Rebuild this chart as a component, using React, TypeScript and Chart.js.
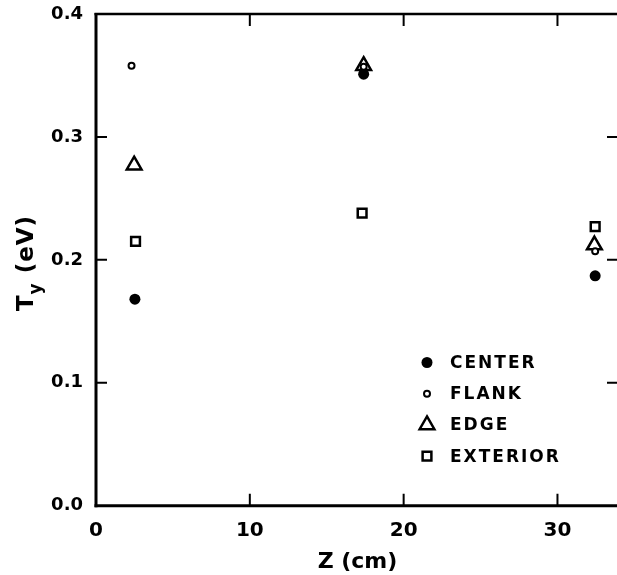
import React, { useEffect, useRef } from 'react';
import { Chart, registerables } from 'chart.js';

Chart.register(...registerables);

const seriesLabels = ['CENTER', 'FLANK', 'EDGE', 'EXTERIOR'];
const centerZ = [2.53, 17.4, 32.45];
const centerT = [0.168, 0.351, 0.187];
const flankZ = [2.31, 17.4, 32.45];
const flankT = [0.358, 0.357, 0.207];
const edgeZ = [2.48, 17.4, 32.4];
const edgeT = [0.277, 0.358, 0.212];
const exteriorZ = [2.57, 17.3, 32.45];
const exteriorT = [0.215, 0.238, 0.227];
const xTicks = [0, 10, 20, 30];
const yTicks = [0, 0.1, 0.2, 0.3, 0.4];
const xTitle = 'Z (cm)';
const yTitleMain = 'T';
const yTitleSub = 'y';
const yTitleRest = ' (eV)';

const FONT = '"DejaVu Sans", sans-serif';

type Mk = { style: string; r: number; fill: string; lw: number };
const markers: Mk[] = [
  { style: 'circle', r: 5.5, fill: '#000', lw: 0 },
  { style: 'circle', r: 3, fill: '#fff', lw: 2 },
  { style: 'triangle', r: 8.5, fill: 'rgba(0,0,0,0)', lw: 2.5 },
  { style: 'rect', r: 6.2, fill: 'rgba(0,0,0,0)', lw: 2.5 },
];

function drawMarker(ctx: CanvasRenderingContext2D, m: Mk, x: number, y: number) {
  ctx.save();
  ctx.beginPath();
  if (m.style === 'circle') {
    ctx.arc(x, y, m.r, 0, Math.PI * 2);
  } else if (m.style === 'triangle') {
    const r = m.r;
    ctx.moveTo(x, y - r);
    ctx.lineTo(x + r * Math.sin(Math.PI * 2 / 3), y + r / 2);
    ctx.lineTo(x - r * Math.sin(Math.PI * 2 / 3), y + r / 2);
    ctx.closePath();
  } else {
    const s = Math.SQRT1_2 * m.r;
    ctx.rect(x - s, y - s, 2 * s, 2 * s);
  }
  ctx.fillStyle = m.fill;
  ctx.fill();
  if (m.lw > 0) {
    ctx.lineWidth = m.lw;
    ctx.strokeStyle = '#000';
    ctx.stroke();
  }
  ctx.restore();
}

const framePlugin = {
  id: 'frame',
  afterDraw(chart: any) {
    const { ctx, chartArea: a, scales } = chart;
    const xs = scales.x;
    const ys = scales.y;
    ctx.save();
    ctx.strokeStyle = '#000';
    ctx.lineCap = 'butt';
    // borders
    ctx.lineWidth = 3;
    ctx.beginPath();
    ctx.moveTo(a.left, a.top - 1);
    ctx.lineTo(a.left, a.bottom + 1.5);
    ctx.stroke();
    ctx.beginPath();
    ctx.moveTo(a.left - 1.5, a.bottom);
    ctx.lineTo(a.right + 1, a.bottom);
    ctx.stroke();
    ctx.lineWidth = 2.5;
    ctx.beginPath();
    ctx.moveTo(a.left - 1.5, a.top);
    ctx.lineTo(a.right + 1, a.top);
    ctx.stroke();
    ctx.beginPath();
    ctx.moveTo(a.right, a.top);
    ctx.lineTo(a.right, a.bottom);
    ctx.stroke();
    // inward ticks
    ctx.lineWidth = 2;
    xTicks.forEach((v) => {
      const px = xs.getPixelForValue(v);
      if (px <= a.left + 2 || px >= a.right - 2) return;
      ctx.beginPath();
      ctx.moveTo(px, a.bottom);
      ctx.lineTo(px, a.bottom - 12);
      ctx.moveTo(px, a.top);
      ctx.lineTo(px, a.top + 12);
      ctx.stroke();
    });
    yTicks.forEach((v) => {
      const py = ys.getPixelForValue(v);
      if (py <= a.top + 2 || py >= a.bottom - 2) return;
      ctx.beginPath();
      ctx.moveTo(a.left, py);
      ctx.lineTo(a.left + 11, py);
      ctx.moveTo(a.right, py);
      ctx.lineTo(a.right - 12, py);
      ctx.stroke();
    });
    // legend
    const lx = 427;
    const tx = 450;
    const ly0 = 362.5;
    const step = 31.2;
    ctx.font = `bold 17px ${FONT}`;
    (ctx as any).letterSpacing = '2px';
    ctx.fillStyle = '#000';
    ctx.textAlign = 'left';
    ctx.textBaseline = 'middle';
    chart.data.datasets.forEach((ds: any, i: number) => {
      const y = ly0 + i * step;
      drawMarker(ctx, markers[i], lx, y);
      ctx.fillStyle = '#000';
      ctx.fillText(ds.label, tx, y + 1);
    });
    (ctx as any).letterSpacing = '0px';
    // x title
    ctx.font = `bold 22px ${FONT}`;
    ctx.textAlign = 'center';
    ctx.textBaseline = 'alphabetic';
    ctx.fillText(xTitle, (a.left + a.right) / 2, 568);
    // y title with subscript
    ctx.save();
    ctx.translate(33, 263);
    ctx.rotate(-Math.PI / 2);
    ctx.textAlign = 'left';
    const mainFont = `bold 23px ${FONT}`;
    const subFont = `bold 17px ${FONT}`;
    (ctx as any).letterSpacing = '1px';
    ctx.font = mainFont;
    const w1 = ctx.measureText(yTitleMain).width;
    const w3 = ctx.measureText(yTitleRest).width;
    ctx.font = subFont;
    const w2 = ctx.measureText(yTitleSub).width;
    let sx = -(w1 + w2 + w3) / 2;
    ctx.font = mainFont;
    ctx.fillText(yTitleMain, sx, 0);
    sx += w1;
    ctx.font = subFont;
    ctx.fillText(yTitleSub, sx, 8);
    sx += w2;
    ctx.font = mainFont;
    ctx.fillText(yTitleRest, sx, 0);
    ctx.restore();
    ctx.restore();
  },
};

export default function App() {
  const ref = useRef<HTMLCanvasElement | null>(null);
  useEffect(() => {
    if (!ref.current) return;
    const zs = [centerZ, flankZ, edgeZ, exteriorZ];
    const ts = [centerT, flankT, edgeT, exteriorT];
    const orders = [2, 0, 1, 3];
    const chart = new Chart(ref.current, {
      type: 'scatter',
      data: {
        datasets: seriesLabels.map((label, i) => ({
          label,
          data: zs[i].map((z, j) => ({ x: z, y: ts[i][j] })),
          pointStyle: markers[i].style as any,
          pointRadius: markers[i].r,
          pointHoverRadius: markers[i].r,
          pointBackgroundColor: markers[i].fill,
          pointBorderColor: '#000',
          pointBorderWidth: markers[i].lw,
          pointHoverBorderWidth: markers[i].lw,
          showLine: false,
          order: orders[i],
        })),
      },
      options: {
        responsive: false,
        animation: false,
        devicePixelRatio: 1,
        events: [],
        layout: { padding: { left: 0, top: 14, right: 9.4, bottom: 0 } },
        plugins: { legend: { display: false }, tooltip: { enabled: false } },
        scales: {
          x: {
            type: 'linear',
            min: 0,
            max: 34,
            afterBuildTicks: (s: any) => {
              s.ticks = xTicks.map((v) => ({ value: v }));
            },
            afterFit: (s: any) => {
              s.height = 69.3;
              s.paddingLeft = 0;
              s.paddingRight = 0;
              s.paddingTop = 0;
              s.paddingBottom = 0;
            },
            grid: { display: false, drawTicks: false },
            border: { display: false },
            ticks: {
              padding: 13,
              color: '#000',
              font: { family: FONT, size: 20, weight: 'bold' },
              maxRotation: 0,
              autoSkip: false,
              callback: (v: any) => String(v),
            },
          },
          y: {
            type: 'linear',
            min: 0,
            max: 0.4,
            afterBuildTicks: (s: any) => {
              s.ticks = yTicks.map((v) => ({ value: v }));
            },
            afterFit: (s: any) => {
              s.width = 96;
              s.paddingLeft = 0;
              s.paddingRight = 0;
              s.paddingTop = 0;
              s.paddingBottom = 0;
            },
            grid: { display: false, drawTicks: false },
            border: { display: false },
            ticks: {
              padding: 13,
              color: '#000',
              font: { family: FONT, size: 18, weight: 'bold' },
              autoSkip: false,
              callback: (v: any) => Number(v).toFixed(1),
            },
          },
        },
      },
      plugins: [framePlugin],
    });
    return () => chart.destroy();
  }, []);
  return (
    <div
      style={{
        position: 'absolute',
        left: 0,
        top: 0,
        width: 617,
        height: 575,
        overflow: 'hidden',
        background: '#fff',
      }}
    >
      <canvas ref={ref} width={630} height={575} style={{ width: 630, height: 575, display: 'block' }} />
    </div>
  );
}
